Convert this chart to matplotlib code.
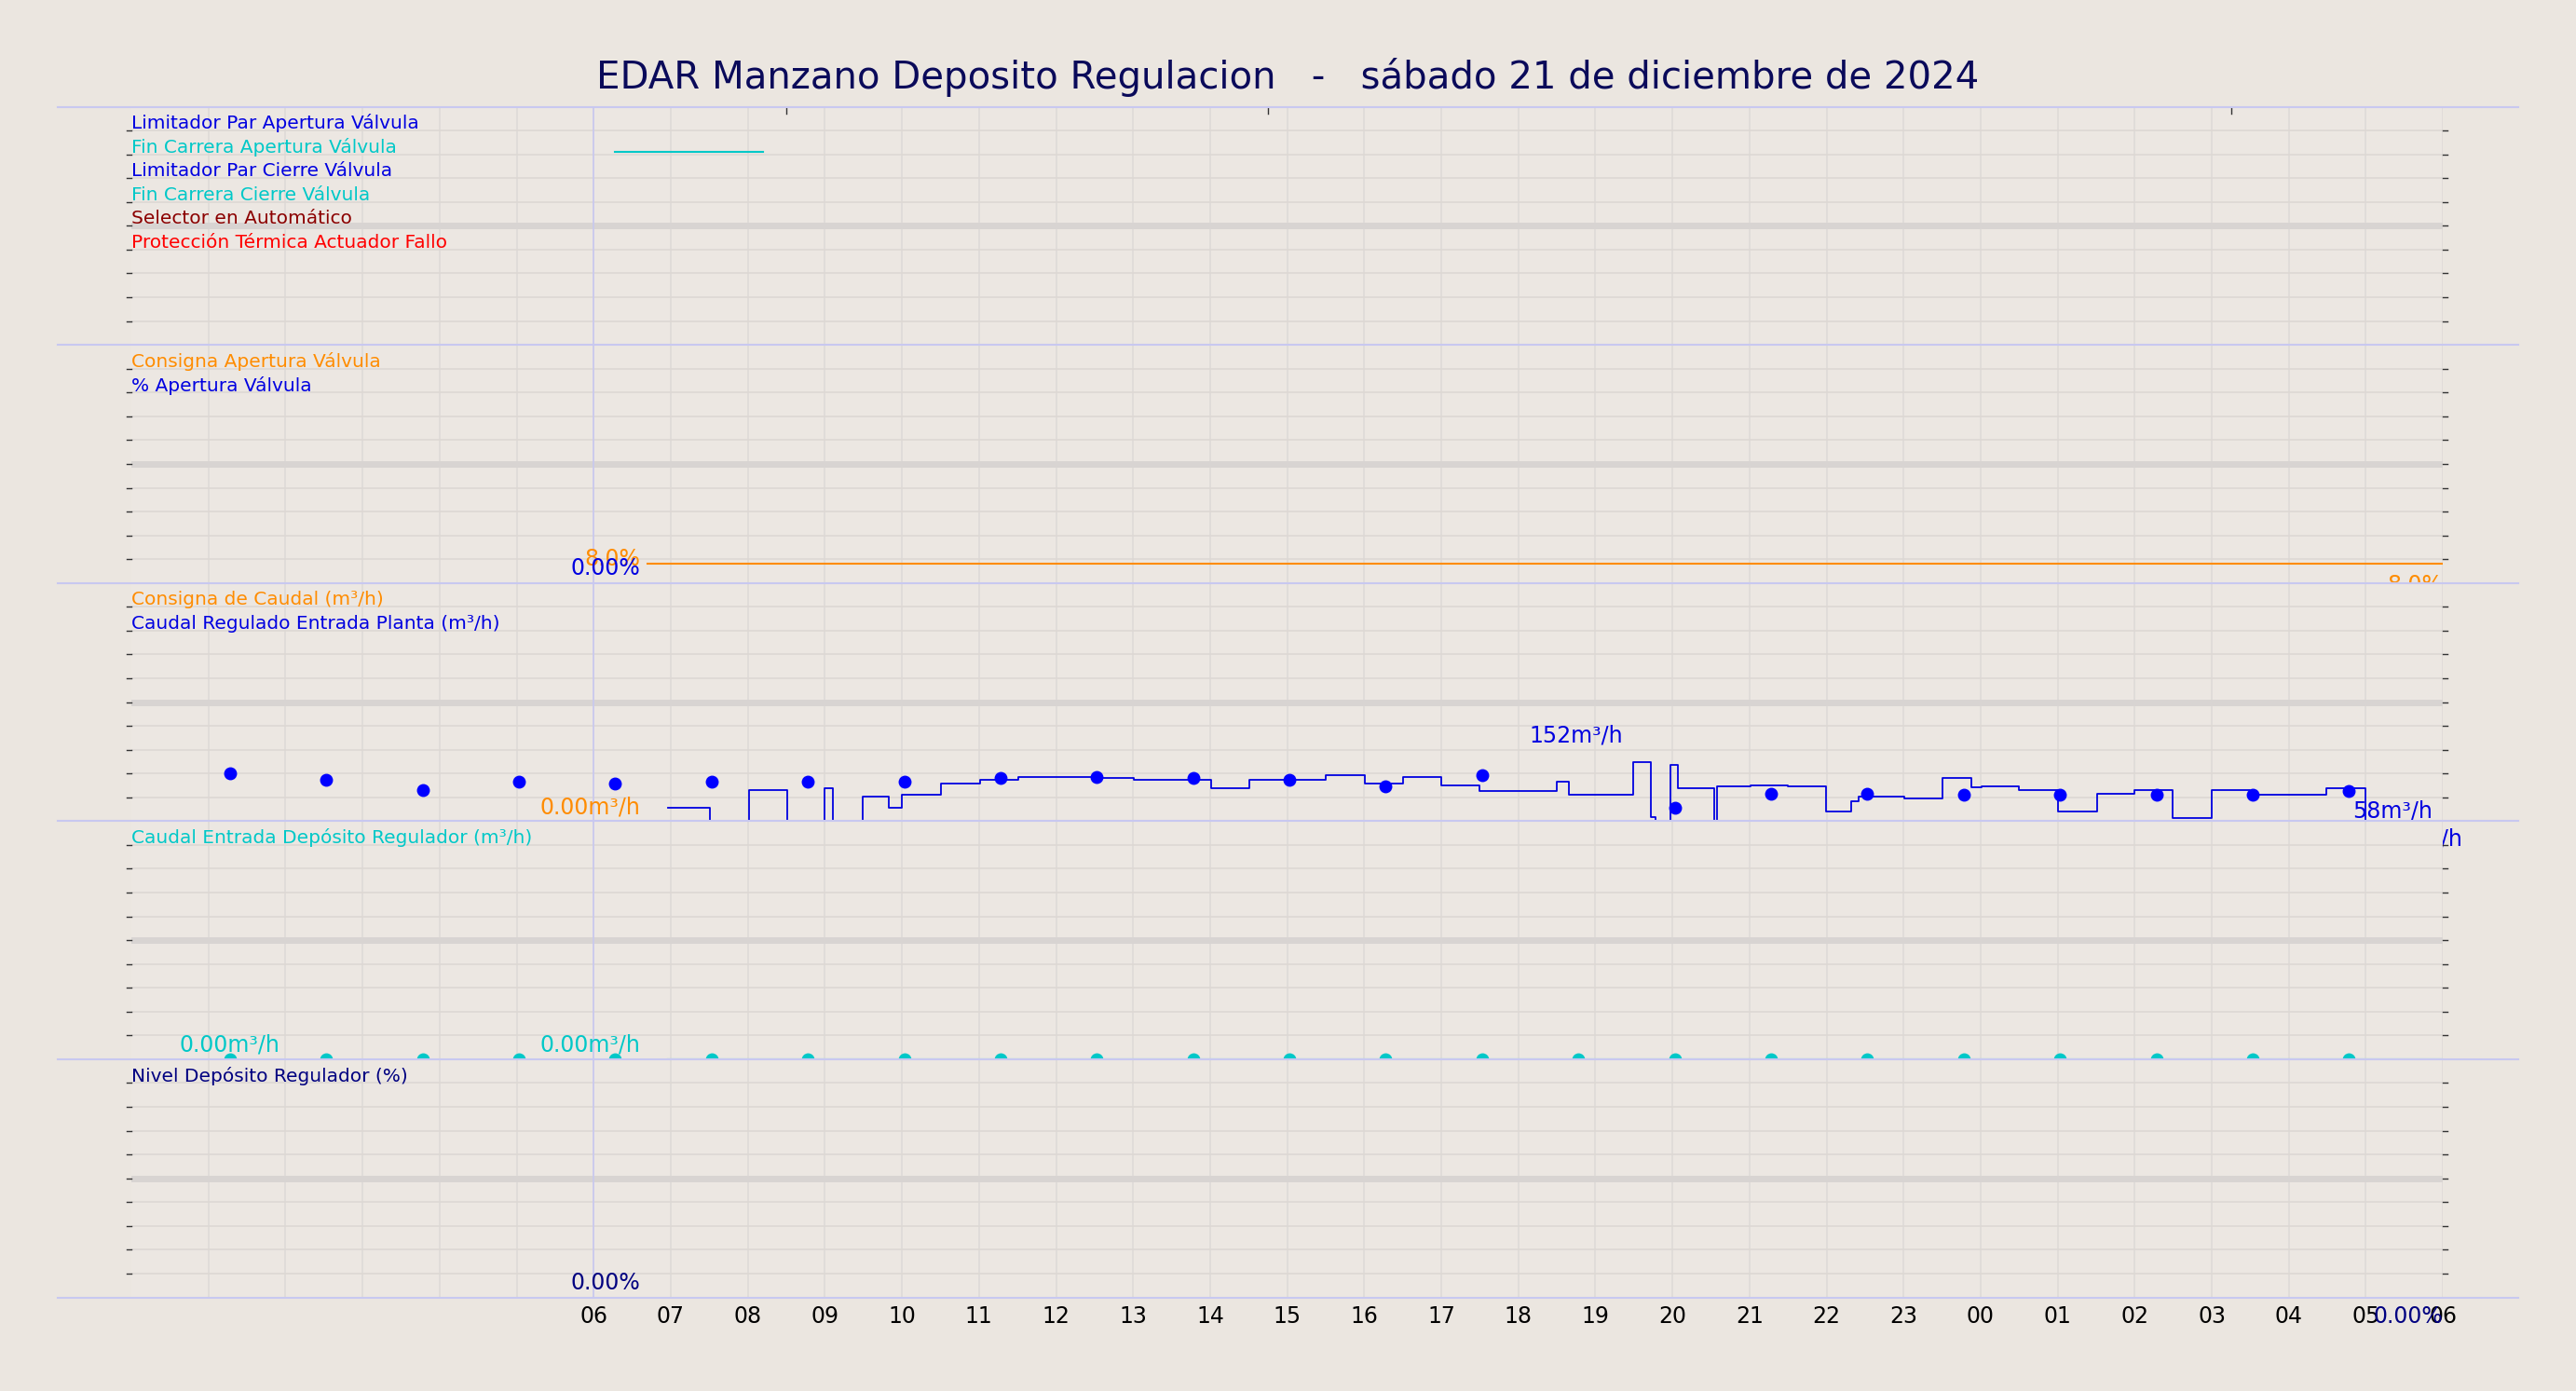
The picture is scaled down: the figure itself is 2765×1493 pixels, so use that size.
import matplotlib
matplotlib.use("Agg")
import matplotlib.pyplot as plt
from matplotlib.lines import Line2D

title = "EDAR Manzano Deposito Regulacion   -   sábado 21 de diciembre de 2024"
tick_labels = ["06","07","08","09","10","11","12","13","14","15","16","17","18","19","20","21","22","23","00","01","02","03","04","05","06"]
tick_hours = list(range(6, 31))

# caudal regulado step series (hour, m3/h)
caudal_t = [6.96,7.51,8.02,8.51,9.0,9.11,9.49,9.83,10.0,10.51,11.02,11.51,12.52,13.01,14.01,14.51,15.5,16.01,16.5,17.0,17.5,18.5,18.66,18.99,19.49,19.72,19.78,19.98,20.07,20.54,20.58,21.01,21.5,21.99,22.32,22.42,23.01,23.5,23.88,24.01,24.5,25.0,25.51,26.0,26.49,27.0,27.5,28.49,29.0,29.49]
caudal_v = [33,0,79,0,83,0,62,33,66,95,103,112,108,103,83,103,116,95,112,91,75,99,66,66,149,10,0,141,83,0,87,91,87,25,50,62,58,108,85,87,79,25,70,79,8,79,66,83,0,0]
dot_t = [1.28,2.53,3.78,5.03,6.28,7.53,8.78,10.03,11.28,12.53,13.78,15.03,16.28,17.53,20.03,21.28,22.53,23.78,25.03,26.28,27.53,28.78]
dot_v = [120,104,79,99,95,99,99,99,108,112,108,104,87,116,33,70,70,66,66,66,66,75]
dot4_t = [1.28,2.53,3.78,5.03,6.28,7.53,8.78,10.03,11.28,12.53,13.78,15.03,16.28,17.53,18.78,20.03,21.28,22.53,23.78,25.03,26.28,27.53,28.78]
consigna_apertura = 8.0
apertura = 0.0

bg = "#ebe6e0"
axbg = "#ece7e2"
fig = plt.figure(figsize=(27.65, 14.93), dpi=100, facecolor=bg)
L, R, T, B = 80/1568, 1487/1568, 1-65/847, 1-790/847
h = (T-B)/5
axes = []
for i in range(5):
    ax = fig.add_axes([L, T-(i+1)*h, R-L, h], facecolor=axbg)
    ax.set_xlim(0, 30)
    for s in ax.spines.values():
        s.set_visible(False)
    for x in range(1, 31):
        ax.axvline(x, color="#dedad8", lw=1.2, zorder=0)
    yt = ax.get_yaxis_transform()
    for k in range(1, 10):
        ax.plot([0, 1], [k/10, k/10], transform=ax.transAxes,
                color="#ddd8d4" if k != 5 else "#d8d4d2", lw=1.2 if k != 5 else 5, zorder=0)
        ax.plot([-0.002, 0], [k/10, k/10], transform=ax.transAxes, color="#333", lw=1, clip_on=False)
        ax.plot([1, 1.002], [k/10, k/10], transform=ax.transAxes, color="#333", lw=1, clip_on=False)
    ax.axvline(6, color="#c8c8f0", lw=1.2, zorder=1)
    ax.set_xticks([])
    ax.set_yticks([])
    axes.append(ax)

def labels(ax, items):
    for j, (txt, c) in enumerate(items):
        ax.text(0.0, 0.93 - j*0.1, txt, color=c, fontsize=14.5, transform=ax.transAxes, va="center")

# panel 1
ax = axes[0]; ax.set_ylim(0, 1)
labels(ax, [("Limitador Par Apertura Válvula", "#0000e0"), ("Fin Carrera Apertura Válvula", "#00c8c8"),
            ("Limitador Par Cierre Válvula", "#0000e0"), ("Fin Carrera Cierre Válvula", "#00c8c8"),
            ("Selector en Automático", "#8b0000"), ("Protección Térmica Actuador Fallo", "#ff0000")])
ax.plot([6.28, 8.2], [0.81, 0.81], color="#00c8c8", lw=1.5)
for x in [8.5, 14.75, 27.25]:
    ax.plot([x, x], [0.97, 1.0], color="#333", lw=1)

# panel 2
ax = axes[1]; ax.set_ylim(0, 100)
labels(ax, [("Consigna Apertura Válvula", "#ff8c00"), ("% Apertura Válvula", "#0000e0")])
ax.plot([6.7, 30], [consigna_apertura]*2, color="#ff8c00", lw=1.5)
ax.plot([6.7, 30], [apertura]*2, color="#0000e0", lw=1.2)
ax.text(6.6, 10, "8.0%", color="#ff8c00", fontsize=17, ha="right", va="center")
ax.text(6.6, 6, "0.00%", color="#0000e0", fontsize=17, ha="right", va="center")
ax.text(30, -1, "8.0%", color="#ff8c00", fontsize=17, ha="right", va="center")
ax.text(30, -8, "0.00%", color="#0000e0", fontsize=17, ha="right", va="center")

# panel 3
ax = axes[2]; ax.set_ylim(0, 600)
labels(ax, [("Consigna de Caudal (m³/h)", "#ff8c00"), ("Caudal Regulado Entrada Planta (m³/h)", "#0000e0")])
ax.step(caudal_t, caudal_v, where="post", color="#0000e0", lw=1.3)
ax.plot([6.96, 30], [0, 0], color="#ff8c00", lw=1.3)
ax.plot(dot_t, dot_v, "o", color="#0000ff", ms=9, zorder=5)
ax.text(6.6, 35, "0.00m³/h", color="#ff8c00", fontsize=17, ha="right", va="center")
ax.text(18.75, 215, "152m³/h", color="#0000e0", fontsize=17, ha="center", va="center")
ax.text(29.35, 25, "58m³/h", color="#0000e0", fontsize=17, ha="center", va="center")
ax.text(29.6, -45, "0.00m³/h", color="#0000e0", fontsize=17, ha="center", va="center")
ax.text(30, -45, "0.00m³/h", color="#ff8c00", fontsize=17, ha="right", va="center", alpha=0.8)

# panel 4
ax = axes[3]; ax.set_ylim(0, 100)
labels(ax, [("Caudal Entrada Depósito Regulador (m³/h)", "#00c8c8")])
ax.plot([6.96, 30], [0, 0], color="#00c8c8", lw=1.5)
ax.plot(dot4_t, [0]*len(dot4_t), "o", color="#00c8c8", ms=9, zorder=5)
ax.text(1.28, 6, "0.00m³/h", color="#00c8c8", fontsize=17, ha="center", va="center")
ax.text(6.6, 6, "0.00m³/h", color="#00c8c8", fontsize=17, ha="right", va="center")
ax.text(30, -8, "0.00m³/h00m³/h", color="#00c8c8", fontsize=17, ha="right", va="center")

# panel 5
ax = axes[4]; ax.set_ylim(0, 100)
labels(ax, [("Nivel Depósito Regulador (%)", "#000080")])
ax.text(6.6, 6, "0.00%", color="#000080", fontsize=17, ha="right", va="center")
ax.text(30, -8, "0.00%", color="#000080", fontsize=17, ha="right", va="center")
ax.set_xticks(tick_hours)
ax.set_xticklabels(tick_labels, fontsize=17)
ax.tick_params(axis="x", length=0, pad=6)

# separators
for k in range(6):
    y = T - k*h
    fig.add_artist(Line2D([35/1568, 1533/1568], [y, y], color="#c8c8f0", lw=1.5))

fig.text(0.5, 1-47/847, title, ha="center", va="center", fontsize=29, color="#0a0a5a")
fig.savefig("out.png", dpi=100, facecolor=bg)
